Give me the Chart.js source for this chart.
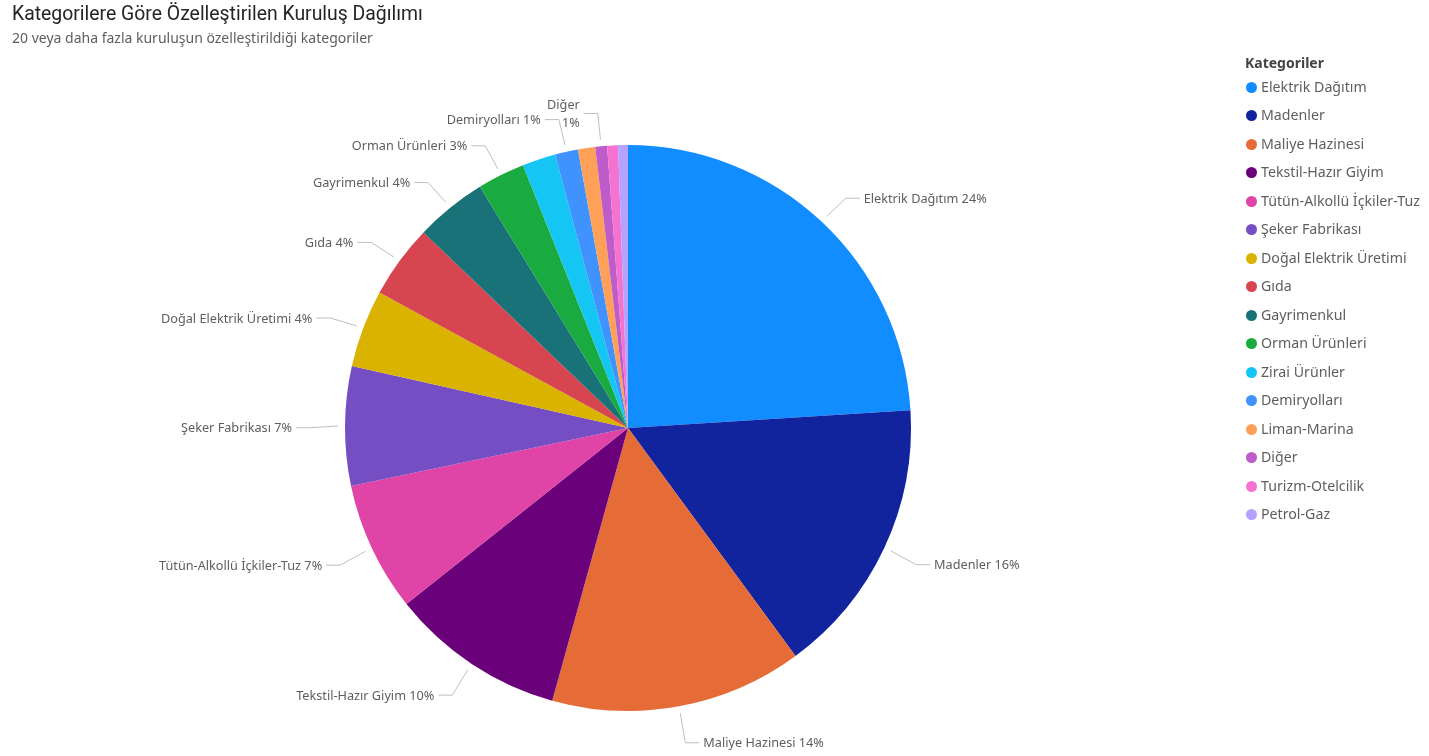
<!DOCTYPE html>
<html lang="tr">
<head>
<meta charset="utf-8">
<title>Kategorilere Göre Özelleştirilen Kuruluş Dağılımı</title>
<script src="https://cdn.jsdelivr.net/npm/chart.js@4.4.1/dist/chart.umd.min.js"></script>
<style>
  html, body { margin: 0; padding: 0; background: #ffffff; width: 1429px; height: 756px; overflow: hidden; }
  #wrap { position: relative; width: 1429px; height: 756px; }
  #chart { position: absolute; left: 0; top: 0; }
  #title { position: absolute; left: 12px; top: 2px; font-family: Roboto, "DejaVu Sans", sans-serif; font-size: 19.4px; color: #252423; white-space: nowrap; }
  #subtitle { position: absolute; left: 12px; top: 28px; font-family: "Noto Sans", "Open Sans", sans-serif; font-size: 14px; color: #605E5C; white-space: nowrap; }
  #legend { position: absolute; left: 1245px; top: 52px; font-family: "Noto Sans", "Open Sans", sans-serif; }
  #legend .lt { font-weight: 700; font-size: 14px; color: #444444; height: 21px; line-height: 21px; }
  #legend .li { position: relative; height: 28.47px; line-height: 28.47px; font-size: 14.2px; color: #605E5C; padding-left: 16px; white-space: nowrap; }
  #legend .dot { position: absolute; left: 1px; top: 9px; width: 11px; height: 11px; border-radius: 50%; }
</style>
</head>
<body>
<div id="wrap">
  <canvas id="chart" width="1429" height="756"></canvas>
  <div id="title">Kategorilere Göre Özelleştirilen Kuruluş Dağılımı</div>
  <div id="subtitle">20 veya daha fazla kuruluşun özelleştirildiği kategoriler</div>
  <div id="legend"></div>
</div>
<script>
// ---- Data ----
const legendTitle = "Kategoriler";
const categories = [
  "Elektrik Dağıtım", "Madenler", "Maliye Hazinesi", "Tekstil-Hazır Giyim",
  "Tütün-Alkollü İçkiler-Tuz", "Şeker Fabrikası", "Doğal Elektrik Üretimi", "Gıda",
  "Gayrimenkul", "Orman Ürünleri", "Zirai Ürünler", "Demiryolları",
  "Liman-Marina", "Diğer", "Turizm-Otelcilik", "Petrol-Gaz"
];
const counts = [857, 568, 514, 357, 264, 243, 158, 150, 146, 97, 68, 47, 35, 24, 22, 20];
const sliceColors = [
  "#118DFF", "#12239E", "#E66C37", "#6B007B",
  "#E044A7", "#744EC2", "#D9B300", "#D64550",
  "#197278", "#1AAB40", "#15C6F4", "#4092FF",
  "#FFA058", "#BE5DC9", "#F472D0", "#B5A1FF"
];
const hiddenLabels = ["Zirai Ürünler", "Liman-Marina", "Turizm-Otelcilik", "Petrol-Gaz"];

// ---- Legend (HTML) ----
const legendEl = document.getElementById('legend');
const lt = document.createElement('div');
lt.className = 'lt';
lt.textContent = legendTitle;
legendEl.appendChild(lt);
categories.forEach((c, i) => {
  const row = document.createElement('div');
  row.className = 'li';
  const dot = document.createElement('span');
  dot.className = 'dot';
  dot.style.background = sliceColors[i];
  row.appendChild(dot);
  row.appendChild(document.createTextNode(c));
  legendEl.appendChild(row);
});

// ---- Outside labels with leader lines ----
const LABEL_FONT = '12.7px "Noto Sans", "Open Sans", sans-serif';
const outsideLabels = {
  id: 'outsideLabels',
  afterDatasetsDraw(chart) {
    const ctx = chart.ctx;
    const meta = chart.getDatasetMeta(0);
    const data = chart.data.datasets[0].data;
    const total = data.reduce((a, b) => a + b, 0);
    const placed = [];
    const overlaps = (b) => placed.some(p => !(b.x2 < p.x1 || b.x1 > p.x2 || b.y2 < p.y1 || b.y1 > p.y2));
    ctx.save();
    ctx.font = LABEL_FONT;
    meta.data.forEach((arc, i) => {
      const name = chart.data.labels[i];
      if (hiddenLabels.includes(name)) return;
      const p = arc.getProps(['x', 'y', 'startAngle', 'endAngle', 'outerRadius'], true);
      const mid = (p.startAngle + p.endAngle) / 2;
      const cos = Math.cos(mid), sin = Math.sin(mid);
      const r0 = p.outerRadius + 7, r1 = p.outerRadius + 35;
      const sx = p.x + r0 * cos, sy = p.y + r0 * sin;
      const ex = p.x + r1 * cos, ey = p.y + r1 * sin + 2;
      const right = cos >= 0;
      const hx = ex + (right ? 14 : -14);
      const tx = hx + (right ? 4 : -4);
      const pct = Math.round(data[i] / total * 100) + '%';
      const one = name + ' ' + pct;
      let lines = [one];
      const w1 = ctx.measureText(one).width;
      let box = right ? {x1: tx, x2: tx + w1, y1: ey - 7, y2: ey + 7} : {x1: tx - w1, x2: tx, y1: ey - 7, y2: ey + 7};
      if (overlaps(box)) {
        lines = [name, pct];
        const w2 = Math.max(ctx.measureText(name).width, ctx.measureText(pct).width);
        box = right ? {x1: tx, x2: tx + w2, y1: ey - 16, y2: ey + 16} : {x1: tx - w2, x2: tx, y1: ey - 16, y2: ey + 16};
        if (overlaps(box)) return;
      }
      placed.push(box);
      ctx.strokeStyle = '#BDBDBD';
      ctx.lineWidth = 1;
      ctx.beginPath();
      ctx.moveTo(sx, sy);
      ctx.lineTo(ex, ey);
      ctx.lineTo(hx, ey);
      ctx.stroke();
      ctx.fillStyle = '#605E5C';
      ctx.textAlign = right ? 'left' : 'right';
      ctx.textBaseline = 'middle';
      if (lines.length === 1) {
        ctx.fillText(lines[0], tx, ey + 1);
      } else {
        ctx.fillText(lines[0], tx, ey - 8);
        ctx.fillText(lines[1], tx, ey + 10);
      }
    });
    ctx.restore();
  }
};

new Chart(document.getElementById('chart'), {
  type: 'pie',
  data: {
    labels: categories,
    datasets: [{
      data: counts,
      backgroundColor: sliceColors,
      borderWidth: 0,
      hoverOffset: 0
    }]
  },
  options: {
    responsive: false,
    animation: false,
    events: [],
    layout: { padding: { top: 145, bottom: 45, left: 345, right: 518 } },
    plugins: {
      legend: { display: false },
      tooltip: { enabled: false },
      title: { display: false }
    }
  },
  plugins: [outsideLabels]
});
</script>
</body>
</html>
